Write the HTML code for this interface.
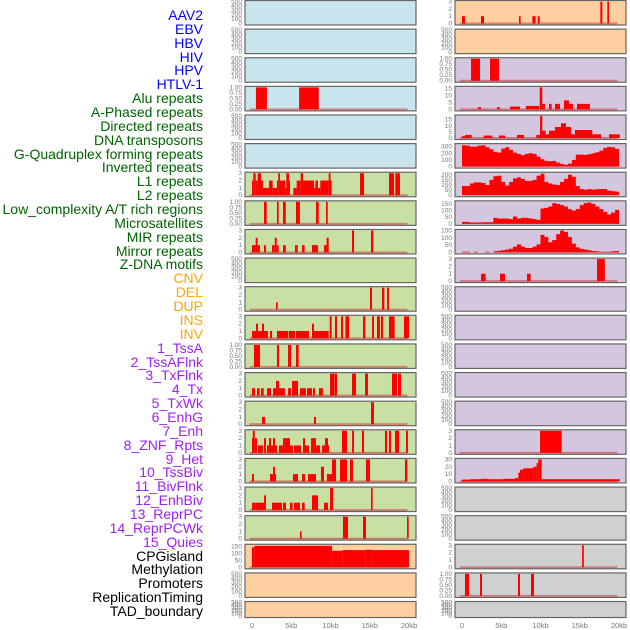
<!DOCTYPE html>
<html><head><meta charset="utf-8">
<style>
html,body{margin:0;padding:0;background:#fff;}
#wrap{position:relative;width:630px;height:630px;overflow:hidden;}
.lab{position:absolute;right:427px;font-family:"Liberation Sans",sans-serif;font-size:14px;line-height:14px;white-space:nowrap;}
svg{position:absolute;left:0;top:0;}
</style></head>
<body>
<div id="wrap">
<div id="labels"></div>
<svg id="chart" width="630" height="630"></svg>
</div>
<script>
// ---- data ----
const labelNames = ["AAV2","EBV","HBV","HIV","HPV","HTLV-1","Alu repeats","A-Phased repeats","Directed repeats","DNA transposons","G-Quadruplex forming repeats","Inverted repeats","L1 repeats","L2 repeats","Low_complexity A/T rich regions","Microsatellites","MIR repeats","Mirror repeats","Z-DNA motifs","CNV","DEL","DUP","INS","INV","1_TssA","2_TssAFlnk","3_TxFlnk","4_Tx","5_TxWk","6_EnhG","7_Enh","8_ZNF_Rpts","9_Het","10_TssBiv","11_BivFlnk","12_EnhBiv","13_ReprPC","14_ReprPCWk","15_Quies","CPGisland","Methylation","Promoters","ReplicationTiming","TAD_boundary"];
const labelColors = ["#0000ff","#0000ff","#0000ff","#0000ff","#0000ff","#0000ff","#006400","#006400","#006400","#006400","#006400","#006400","#006400","#006400","#006400","#006400","#006400","#006400","#006400","#ffa500","#ffa500","#ffa500","#ffa500","#ffa500","#a020f0","#a020f0","#a020f0","#a020f0","#a020f0","#a020f0","#a020f0","#a020f0","#a020f0","#a020f0","#a020f0","#a020f0","#a020f0","#a020f0","#a020f0","#000000","#000000","#000000","#000000","#000000"];
const xTicks = [0,5,10,15,20];
const xTickLabels = ["0","5kb","10kb","15kb","20kb"];

// segments [startKb, endKb, value]
const L3 = [[0.5,1.9,1],[6.0,8.5,1]];
const L6 = [[0,0.17,2],[0.17,0.47,3],[0.47,0.72,2],[0.72,1.15,3],[1.15,1.4,2],[1.4,2.17,1],[2.17,2.63,2],[2.63,3.18,1],[3.18,3.35,2],[3.35,3.57,3],[3.57,4.25,2],[4.25,4.37,1],[4.37,4.71,3],[4.71,4.84,2],[5.27,5.69,1],[5.69,6.2,2],[6.2,6.5,3],[6.5,7.9,2],[7.9,8.07,1],[8.07,8.4,2],[8.4,8.7,1],[8.7,9.77,2],[9.77,10.0,3],[10.0,10.15,2],[13.76,14.27,3],[17.45,18.1,3],[18.26,18.85,3]];
const L7 = [[1.53,1.87,1],[3.18,3.4,1],[3.95,4.3,1],[5.6,6.1,1],[8.15,8.5,1],[9.43,9.65,1]];
const L8 = [[0,0.47,1],[0.47,0.72,2],[0.72,1.02,1],[1.53,1.78,1],[2.55,2.9,1],[2.9,3.15,2],[3.15,3.4,1],[3.95,4.3,1],[5.48,5.82,1],[6.37,6.7,1],[7.64,8.4,1],[9.17,9.5,1],[9.5,9.77,2],[12.74,13.0,3],[15.16,15.46,3]];
const L10 = [[3.06,3.27,1],[15.03,15.29,3],[16.56,16.86,3],[17.2,17.45,3]];
const L11 = [[0,0.51,1],[0.51,0.76,2],[0.76,1.27,1],[1.27,1.53,2],[1.53,2.04,1],[2.29,2.55,1],[3.18,4.63,1],[4.71,5.48,1],[5.6,7.26,1],[7.64,7.9,2],[7.9,9.77,1],[9.9,10.15,3],[10.57,10.83,3],[11.34,11.6,3],[11.9,12.36,3],[14.14,14.44,3],[15.29,15.54,3],[15.92,16.3,3],[16.43,16.69,3],[17.45,18.17,3],[19.36,20.0,3]];
const L12 = [[0.25,1.02,1],[3.18,3.44,1],[4.59,4.97,1],[5.6,5.94,1]];
const L13 = [[0,0.38,1],[0.64,0.98,1],[1.15,1.49,1],[1.91,2.42,1],[2.68,3.06,1],[3.06,3.44,2],[3.44,4.2,1],[4.59,4.97,1],[5.1,5.86,2],[6.11,6.88,1],[7.01,7.64,1],[7.77,8.03,1],[8.53,9.04,1],[9.94,10.45,3],[10.49,10.83,3],[12.74,13.25,3],[14.4,14.78,3],[17.83,18.47,3],[18.6,18.98,3]];
const L14 = [[1.27,1.66,1],[7.9,8.15,1],[15.16,15.54,3]];
const L15 = [[0,0.1,2],[0.1,0.35,3],[0.35,0.64,2],[0.76,1.4,1],[1.53,1.78,2],[1.91,2.17,1],[2.17,2.42,2],[2.42,2.68,1],[2.68,2.93,2],[2.93,3.18,1],[3.44,3.95,1],[3.95,4.2,2],[4.2,4.84,2],[4.84,5.22,1],[5.35,6.24,1],[6.5,6.75,2],[6.75,7.26,1],[7.52,8.15,2],[8.15,8.66,1],[8.92,9.3,1],[9.3,9.68,2],[9.68,9.81,1],[11.46,12.1,3],[12.74,12.99,3],[14.01,14.27,3],[16.94,17.2,3],[17.45,17.71,3],[18.22,18.73,3],[19.62,19.87,3]];
const L16 = [[0,0.25,1],[2.29,2.68,1],[2.68,2.93,2],[2.93,3.06,1],[5.22,5.86,1],[6.37,6.75,1],[7.13,7.64,1],[7.64,8.15,1],[8.79,9.17,2],[9.55,10.19,1],[10.19,10.7,3],[11.21,12.1,3],[12.48,12.86,3],[14.52,15.03,3],[19.49,19.79,3]];
const L17 = [[0,0.47,1],[0.47,1.53,1],[1.53,1.78,2],[2.55,3.82,1],[3.95,4.33,1],[4.84,5.18,1],[5.35,6.11,1],[6.37,6.71,1],[7.64,8.41,2],[9.17,9.68,1],[9.94,10.32,3],[15.16,15.37,3]];
const L18 = [[6.11,6.32,1],[11.59,12.23,3],[14.14,14.52,3],[19.75,19.96,3]];
const L19 = [[0,0.3,145],[0.3,10.2,156],[10.2,11.5,120],[11.5,14.5,125],[14.5,15.3,128],[15.3,20,125]];
const R0 = [[0,0.38,1],[2.42,2.8,1],[7.26,7.47,1],[8.96,9.38,1],[9.64,9.9,1],[17.62,17.88,3],[18.51,18.73,3]];
const R2 = [[1.15,2.29,1],[3.57,4.71,1]];
const R3 = [[2.0,2.42,1.5],[4.46,4.84,1.5],[6.11,7.39,2],[8.15,9.81,2.5],[9.9,10.23,16],[10.23,10.57,4],[11.08,11.42,4],[11.85,12.48,4],[12.99,13.63,6.5],[13.63,14.14,4],[14.65,16.3,4]];
const R4 = [[0,0.38,1.5],[0.38,1.23,2.5],[2.76,3.86,2],[4.71,5.48,2],[7.0,7.9,2.5],[9.47,9.94,2.5],[9.94,10.23,18],[10.23,10.66,6],[10.66,11.08,3],[11.08,11.85,6],[11.85,12.61,9],[12.61,13.25,12],[13.25,13.89,9],[13.89,14.39,3],[14.39,16.6,6.5],[16.6,17.71,3],[18.73,20.1,3]];
const R5 = [320,315,300,300,315,320,290,260,220,210,270,290,250,210,190,170,190,200,190,150,110,85,80,85,60,40,30,45,100,180,180,175,185,200,215,240,280,295,290,265];
const R6 = [90,90,115,125,125,120,100,150,185,190,130,95,130,165,175,160,140,140,150,190,210,130,115,105,100,130,160,200,180,90,60,55,60,55,60,60,60,45,40,35];
const R7 = [15,15,10,10,10,12,12,12,45,40,40,40,35,55,40,45,45,40,35,30,115,120,130,155,150,140,130,110,100,110,140,155,160,150,130,110,90,70,85,105];
const R8 = [5,5,0,5,0,0,5,0,8,12,15,20,25,40,55,40,30,30,40,55,120,105,70,85,125,150,140,105,60,35,25,20,15,10,8,5,5,5,8,10];
const R9 = [[2.42,3.01,1],[4.84,5.48,1],[8.28,8.75,1],[17.2,18.2,3]];
const R15 = [[9.94,12.7,3]];
const R16 = [[0,1.02,2.5],[1.02,2.42,3],[2.42,3.35,3.5],[3.35,5.27,3],[5.27,6.75,3.5],[6.75,7.18,4.5],[7.18,7.39,12],[7.39,7.81,16],[7.81,9.09,18],[9.09,9.51,20],[9.51,9.72,25],[9.72,10.15,30],[10.15,20.1,3]];
const R19 = [[15.3,15.52,3]];
const R20 = [[0.38,0.89,1],[2.29,2.55,1],[7.13,7.39,1],[8.79,9.17,1]];

const BLUE="#c8e4ec",GREEN="#c8e0a4",ORANGE="#ffd09f",PURPLE="#d5c6e0",GREY="#d0d0d0";
const T500=[0,100,200,300,400,500], T3=[0,1,2,3], T1=[0,0.25,0.5,0.75,1];
// panel configs: [bg, ymax, ticks, data, kind]
const leftPanels = [
 [BLUE,500,T500,null],[BLUE,500,T500,null],[BLUE,500,T500,null],[BLUE,1,T1,L3],[BLUE,500,T500,null],[BLUE,500,T500,null],
 [GREEN,3,T3,L6],[GREEN,1,T1,L7],[GREEN,3,T3,L8],[GREEN,500,T500,null],[GREEN,3,T3,L10],[GREEN,3,T3,L11],
 [GREEN,1,T1,L12],[GREEN,3,T3,L13],[GREEN,3,T3,L14],[GREEN,3,T3,L15],[GREEN,3,T3,L16],[GREEN,3,T3,L17],[GREEN,3,T3,L18],
 [ORANGE,160,[0,50,100,150],L19],[ORANGE,500,T500,null],[ORANGE,500,T500,null]];
const rightPanels = [
 [ORANGE,3,T3,R0],[ORANGE,500,T500,null],[PURPLE,1,T1,R2],[PURPLE,16,[0,5,10,15],R3],[PURPLE,18,[0,5,10,15],R4],
 [PURPLE,330,[0,100,200,300],R5],[PURPLE,215,[0,50,100,150,200],R6],[PURPLE,165,[0,50,100,150],R7],[PURPLE,150,[0,50,100,150],R8],
 [PURPLE,3,T3,R9],[PURPLE,500,T500,null],[PURPLE,500,T500,null],[PURPLE,500,T500,null],[PURPLE,500,T500,null],[PURPLE,500,T500,null],
 [PURPLE,3,T3,R15],[PURPLE,30,[0,10,20,30],R16],[GREY,500,T500,null],[GREY,500,T500,null],[GREY,3,T3,R19],[GREY,1,T1,R20],[GREY,500,T500,null]];

// ---- drawing ----
const NS="http://www.w3.org/2000/svg";
const svg=document.getElementById('chart');
function mk(tag,attrs,parent){const e=document.createElementNS(NS,tag);for(const k in attrs)e.setAttribute(k,attrs[k]);(parent||svg).appendChild(e);return e;}

const labDiv=document.getElementById('labels');
labelNames.forEach((n,i)=>{
  const d=document.createElement('div');
  d.className='lab';
  d.style.top=(8+13.86*i)+'px';
  d.style.color=labelColors[i];
  d.textContent=n;
  
  
  labDiv.appendChild(d);
});

function fmt(v,ticks){return ticks===T1? v.toFixed(2): String(v);}

function drawPanel(cfg,col,row){
  const [bg,ymax,ticks,data]=cfg;
  const px = col===0?245:455;
  const top = 0.5+28.62*row;
  const h = row===21?16:24.5;
  const w = 171;
  const g=mk('g',{});
  
  
  mk('rect',{x:px,y:top,width:w,height:h,fill:bg,stroke:'#666','stroke-width':1.2},g);
  const x0=px+7, x1=px+164;
  const xs=kb=>x0+(x1-x0)*kb/20;
  const yTop=top+1, yZero=top+h-1.5;
  const ys=v=>yZero-(yZero-yTop)*v/ymax;
  ticks.forEach(t=>{
    const tx=mk('text',{x:px-3,y:ys(t)+2,'font-size':6.5,'text-anchor':'end',fill:'#777','font-family':'Liberation Sans, sans-serif'},g);
    tx.textContent=fmt(t,ticks);
  });
  if(!data) return;
  if(typeof data[0]==='number'){
    // binned curve
    let d='M'+xs(0)+','+yZero;
    data.forEach((v,i)=>{d+=' L'+xs(i*0.5)+','+ys(v)+' L'+xs(i*0.5+0.5)+','+ys(v);});
    d+=' L'+xs(data.length*0.5)+','+yZero+' Z';
    const p=mk('path',{d:d,fill:'#ff0000'},g);
    
    
  } else {
    mk('rect',{x:xs(-0.3),y:yZero-1,width:xs(19.8)-xs(-0.3),height:2,fill:'rgba(200,60,60,0.55)'},g);
    data.forEach(s=>{
      const r=mk('rect',{x:xs(s[0]),y:ys(s[2]),width:Math.max(1,xs(s[1])-xs(s[0])),height:yZero-ys(s[2]),fill:'#ff0000'},g);
      
      
    });
  }
}
leftPanels.forEach((c,i)=>drawPanel(c,0,i));
rightPanels.forEach((c,i)=>drawPanel(c,1,i));

[245,455].forEach(px=>{
  const x0=px+7,x1=px+164;
  xTicks.forEach((t,i)=>{
    const tx=mk('text',{x:x0+(x1-x0)*t/20,y:628,'font-size':7.5,'text-anchor':'middle',fill:'#777','font-family':'Liberation Sans, sans-serif'});
    tx.textContent=xTickLabels[i];
    
    
  });
});
</script>
</body></html>
